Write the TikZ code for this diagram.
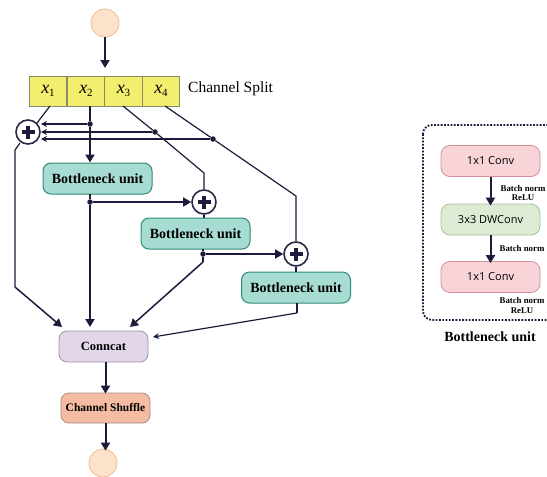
\documentclass[tikz,border=0pt]{standalone}
\usepackage{fontspec}
\setmainfont{Liberation Serif}
\newfontfamily\convfont{Open Sans}
\usetikzlibrary{arrows.meta,calc}
\definecolor{navy}{HTML}{1E1A3C}
\definecolor{peachF}{HTML}{FDE2CB}
\definecolor{peachD}{HTML}{F5B98C}
\definecolor{yelF}{HTML}{F2EE6E}
\definecolor{yelD}{HTML}{8A8A6A}
\definecolor{tealF}{HTML}{A6DCD2}
\definecolor{tealD}{HTML}{2F8A78}
\definecolor{lavF}{HTML}{E2D6EA}
\definecolor{lavD}{HTML}{9E93A8}
\definecolor{salF}{HTML}{F5BCA3}
\definecolor{salD}{HTML}{A68A85}
\definecolor{pinkF}{HTML}{F8D3D8}
\definecolor{pinkD}{HTML}{D4909A}
\definecolor{grnF}{HTML}{DDEBD5}
\definecolor{grnD}{HTML}{A3C49A}
\tikzset{
  ball/.style={circle,draw=peachD,fill=peachF,line width=0.8pt,minimum size=28pt,inner sep=0pt},
  cell/.style={draw=yelD,fill=yelF,line width=0.8pt,minimum width=37.75pt,minimum height=30pt,inner sep=0pt,font=\fontsize{18}{18}\selectfont},
  bneck/.style={draw=tealD,fill=tealF,line width=1pt,rounded corners=8pt,minimum width=109pt,minimum height=31pt,inner sep=0pt,font=\bfseries\fontsize{14}{14}\selectfont},
  catbox/.style={draw=lavD,fill=lavF,line width=0.8pt,rounded corners=8pt,minimum width=89pt,minimum height=31pt,inner sep=0pt,font=\bfseries\fontsize{12.5}{12.5}\selectfont},
  shufbox/.style={draw=salD,fill=salF,line width=0.8pt,rounded corners=8pt,minimum width=89pt,minimum height=30pt,inner sep=0pt,font=\bfseries\fontsize{11.5}{11.5}\selectfont},
  convbox/.style={draw=pinkD,fill=pinkF,line width=0.8pt,rounded corners=9pt,minimum width=99pt,minimum height=31pt,inner sep=0pt,font=\convfont\fontsize{11}{11}\selectfont},
  dwbox/.style={convbox,draw=grnD,fill=grnF},
  plusnode/.style={circle,draw=navy!85!gray,fill=white,line width=1.6pt,minimum size=24pt,inner sep=0pt},
  dotnode/.style={circle,fill=navy,minimum size=5.5pt,inner sep=0pt},
  bigarrow/.style={draw=navy,line width=2pt,-{Triangle[length=8pt,width=9pt]}},
  midarrow/.style={draw=navy,line width=1.5pt,-{Triangle[length=8pt,width=9pt]}},
  thinarrow/.style={draw=navy,line width=1.2pt,-{Stealth[length=6pt,width=6pt]}},
  thinline/.style={draw=navy,line width=1.2pt},
  small/.style={font=\bfseries\fontsize{8.8}{9.8}\selectfont,align=center,inner sep=0pt}
}
\newcommand{\xsub}[1]{\textit{x}\raisebox{-0.4ex}{\fontsize{11}{11}\selectfont #1}}
\newcommand{\plusmark}[1]{\draw[navy,line width=3.4pt] ($(#1)+(-6.5,0)$) -- ($(#1)+(6.5,0)$) ($(#1)+(0,-6.5)$) -- ($(#1)+(0,6.5)$);}
\begin{document}
\begin{tikzpicture}[x=1pt,y=-1pt]
\useasboundingbox (0,0) rectangle (547,477);
\clip (0,0) rectangle (547,477);
% input / output
\node[ball] (in) at (105,23) {};
\node[ball] (out) at (103,463) {};
% split cells
\node[cell] (x1) at (48,91) {\xsub{1}};
\node[cell] (x2) at (86,91) {\xsub{2}};
\node[cell] (x3) at (123.5,91) {\xsub{3}};
\node[cell] (x4) at (161,91) {\xsub{4}};
\node[anchor=west,font=\fontsize{15.5}{15.5}\selectfont,inner sep=0pt] (cs) at (188,89) {Channel Split};
\coordinate (intip) at (105,68);
\draw[bigarrow] (in.south) -- (intip);
% plus nodes
\node[plusnode] (p1) at (28,132) {};
\node[plusnode] (p2) at (204,202) {};
\node[plusnode] (p3) at (296,254) {};
\plusmark{p1}\plusmark{p2}\plusmark{p3}
% bottlenecks
\node[bneck] (b1) at (97.5,178.5) {Bottleneck unit};
\node[bneck] (b2) at (195.5,233.5) {Bottleneck unit};
\node[bneck] (b3) at (296,287.5) {Bottleneck unit};
\node[catbox] (cat) at (103.5,346.5) {Conncat};
\node[shufbox] (shuf) at (105.5,408) {Channel Shuffle};
% dots
\node[dotnode] (d2) at (90,124) {};
\node[dotnode] (d3) at (155,132) {};
\node[dotnode] (d4) at (213,139) {};
\node[dotnode] (e1) at (90,202) {};
\node[dotnode] (e2) at (203,254) {};
% helper coordinates
\coordinate (x1o) at (50,106);
\coordinate (x2o) at (90,106);
\coordinate (x3o) at (123,106);
\coordinate (x4o) at (165,106);
\coordinate (pin1) at (37,123);
\coordinate (pa) at (41,124);
\coordinate (pb) at (41,132);
\coordinate (pc) at (41,139);
\coordinate (k3) at (204,173);
\coordinate (k4) at (296,196);
\coordinate (l1) at (20,143);
\coordinate (l2) at (15,150);
\coordinate (l3) at (15,287);
\coordinate (t1) at (62,327);
\coordinate (t2) at (90,327);
\coordinate (t3) at (130,327);
\coordinate (t4) at (153,337);
\coordinate (b1o) at (90,194);
\coordinate (b2o) at (203,249);
\coordinate (b2k) at (203,262);
\coordinate (b3o) at (297,303);
\coordinate (b3k) at (297,313);
% split connections
\draw[thinline] (x1o) -- (pin1);
\draw[bigarrow] (x2o) -- (d2) -- (b1.north -| d2);
\draw[thinarrow] (d2) -- (pa);
\draw[thinline] (x3o) -- (d3) -- (k3) -- (p2.north);
\draw[thinarrow] (d3) -- (pb);
\draw[thinline] (x4o) -- (d4) -- (k4) -- (p3.north);
\draw[thinarrow] (d4) -- (pc);
% plus1 to concat
\draw[thinline] (l1) -- (l2) -- (l3);
\draw[midarrow] (l3) -- (t1);
% bottleneck 1
\draw[bigarrow] (b1o) -- (e1) -- (t2);
\draw[midarrow] (e1) -- (p2.west);
\draw[thinline] (p2.south) -- (b2.north -| p2);
% bottleneck 2
\draw[thinline] (b2o) -- (e2) -- (b2k);
\draw[midarrow] (b2k) -- (t3);
\draw[midarrow] (e2) -- (p3.west);
\draw[thinline] (p3.south) -- (b3.north -| p3);
% bottleneck 3
\draw[thinline] (b3o) -- (b3k);
\draw[thinarrow] (b3k) -- (t4);
% concat -> shuffle -> out
\draw[bigarrow] (cat.south -| shuf) -- ([yshift=-1pt]shuf.north);
\draw[bigarrow] (shuf.south) -- ([yshift=-2pt]out.north -| shuf);
% right panel
\draw[navy,line width=1.8pt,dash pattern=on 1.8pt off 1.5pt,rounded corners=9pt] (423,125) rectangle (565,320);
\node[convbox] (c1) at (490.5,161) {1x1 Conv};
\node[dwbox] (dw) at (490.5,219.5) {3x3 DWConv};
\node[convbox] (c2) at (490.5,277) {1x1 Conv};
\draw[bigarrow] (c1.south) -- ([yshift=-2pt]dw.north);
\draw[bigarrow] (dw.south) -- ([yshift=-2pt]c2.north);
\node[small] (bn1) at (523,193) {Batch norm\\ReLU};
\node[small] (bn2) at (522,248) {Batch norm};
\node[small] (bn3) at (522,305.5) {Batch norm\\ReLU};
\node[font=\bfseries\fontsize{14}{14}\selectfont,inner sep=0pt] (bt) at (490,337) {Bottleneck unit};
\end{tikzpicture}
\end{document}
